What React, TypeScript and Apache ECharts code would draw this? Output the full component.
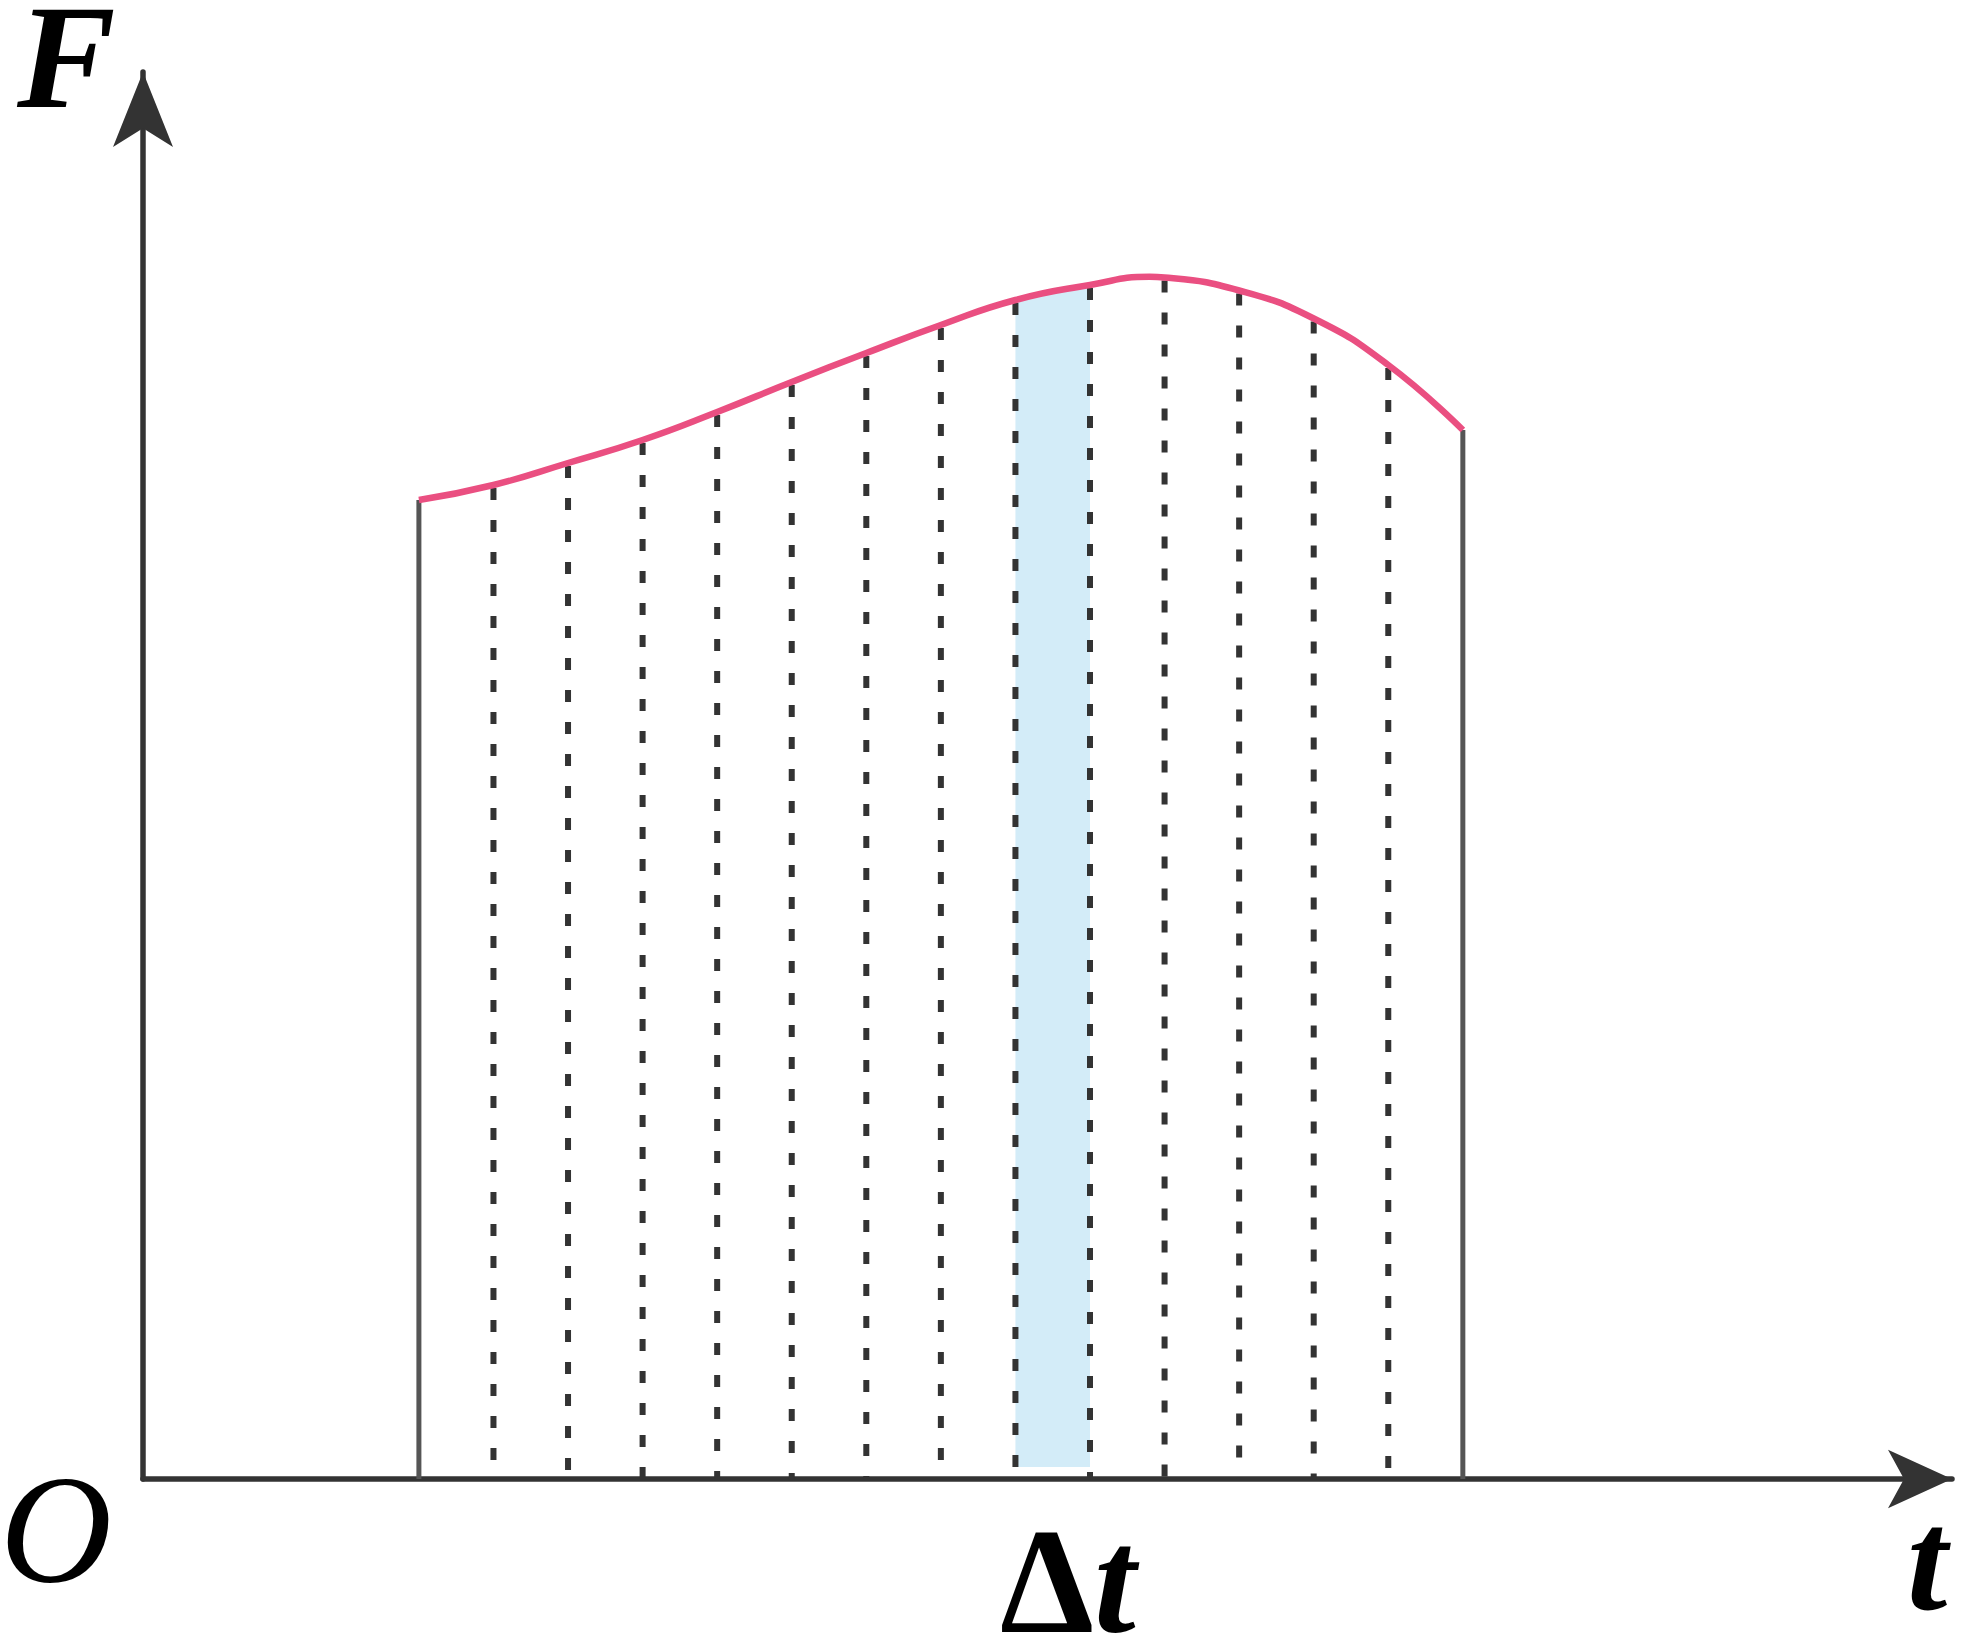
import React, { useEffect, useRef } from "react";
import * as echarts from "echarts";

// ---- data ----
// points read along the pink curve F(t): the slice boundaries plus the top of the hump
const curveT = [3.7, 4.7, 5.7, 6.7, 7.7, 8.7, 9.7, 10.7, 11.7, 12.7, 13.5, 13.7, 14.7, 15.7, 16.7, 17.7];
const curveF = [9.79, 9.94, 10.16, 10.39, 10.67, 10.97, 11.26, 11.54, 11.79, 11.94, 12.022, 12.015, 11.885, 11.605, 11.14, 10.49];
// which curve points are slice boundaries (14 equal slices of width Δt = 1)
const boundaryIdx = [0, 1, 2, 3, 4, 5, 6, 7, 8, 9, 11, 12, 13, 14, 15];
// highlighted slice (between these curve indices)
const highlightFrom = 8;
const highlightTo = 9;
const bandBase = 0.12;
// axis ranges
const tMax = 24.26;
const fMax = 14.07;
// labels
const yLabel = "F";
const xLabel = "t";
const originLabel = "O";
const deltaSymbol = "Δ";
const deltaVar = "t";

const SERIF = "'Liberation Serif', 'DejaVu Serif', serif";

export default function App() {
  const ref = useRef<HTMLDivElement>(null);

  useEffect(() => {
    if (!ref.current) return;
    const chart = echarts.init(ref.current, undefined, { renderer: "svg" });

    const curveData = curveT.map((t, i) => [t, curveF[i]]);
    const boundaryData = boundaryIdx.map((i) => [curveT[i], curveF[i]]);
    const innerData = boundaryData.slice(1, boundaryData.length - 1);
    const edgeData = [boundaryData[0], boundaryData[boundaryData.length - 1]];
    const bandData = [
      [curveT[highlightFrom], curveT[highlightTo], curveF[highlightFrom], curveF[highlightTo], bandBase],
    ];

    const option: any = {
      animation: false,
      backgroundColor: "#ffffff",
      grid: { left: 143, top: 72, width: 1809, height: 1407, containLabel: false },
      xAxis: {
        type: "value",
        min: 0,
        max: tMax,
        axisLine: {
          show: true,
          symbol: ["none", "arrow"],
          symbolSize: [44, 64],
          lineStyle: { color: "#333333", width: 5.5 },
        },
        axisTick: { show: false },
        axisLabel: { show: false },
        splitLine: { show: false },
      },
      yAxis: {
        type: "value",
        min: 0,
        max: fMax,
        axisLine: {
          show: true,
          symbol: ["none", "arrow"],
          symbolSize: [45, 75],
          lineStyle: { color: "#333333", width: 5.5 },
        },
        axisTick: { show: false },
        axisLabel: { show: false },
        splitLine: { show: false },
      },
      series: [
        {
          type: "custom",
          z: 1,
          data: bandData,
          renderItem: (params: any, api: any) => {
            const t0 = api.value(0);
            const t1 = api.value(1);
            const f0 = api.value(2);
            const f1 = api.value(3);
            const b = api.value(4);
            const pts = [api.coord([t0, b]), api.coord([t0, f0]), api.coord([t1, f1]), api.coord([t1, b])];
            return { type: "polygon", shape: { points: pts }, style: { fill: "#d3ecf8" } };
          },
        },
        {
          type: "custom",
          z: 2,
          data: innerData,
          renderItem: (params: any, api: any) => {
            const t = api.value(0);
            const f = api.value(1);
            const top = api.coord([t, f]);
            const bot = api.coord([t, 0]);
            return {
              type: "line",
              shape: { x1: top[0], y1: top[1] + 3, x2: bot[0], y2: bot[1] },
              style: { stroke: "#333333", lineWidth: 6, lineDash: [12, 20] },
            };
          },
        },
        {
          type: "custom",
          z: 2,
          data: edgeData,
          renderItem: (params: any, api: any) => {
            const t = api.value(0);
            const f = api.value(1);
            const top = api.coord([t, f]);
            const bot = api.coord([t, 0]);
            return {
              type: "line",
              shape: { x1: top[0], y1: top[1], x2: bot[0], y2: bot[1] },
              style: { stroke: "#555555", lineWidth: 5 },
            };
          },
        },
        {
          type: "line",
          z: 3,
          data: curveData,
          smooth: 0.5,
          showSymbol: false,
          symbol: "none",
          lineStyle: { color: "#ea4f81", width: 6.5 },
        },
      ],
      graphic: [
        {
          type: "text",
          left: 17,
          top: -17,
          style: {
            text: yLabel,
            font: `italic bold 148px ${SERIF}`,
            fill: "#000",
          },
        },
        {
          type: "text",
          left: 0,
          top: 1451,
          style: {
            text: originLabel,
            font: `italic 155px ${SERIF}`,
            fill: "#000",
          },
        },
        {
          type: "text",
          left: 1907,
          top: 1487,
          style: {
            text: xLabel,
            font: `italic bold 145px ${SERIF}`,
            fill: "#000",
          },
        },
        {
          type: "text",
          left: 1000,
          top: 1506,
          style: {
            text: `{d|${deltaSymbol}}{t|${deltaVar}}`,
            rich: {
              d: { font: `bold 150px ${SERIF}`, fill: "#000" },
              t: { font: `italic bold 150px ${SERIF}`, fill: "#000" },
            },
          },
        },
      ],
    };

    chart.setOption(option);
    return () => chart.dispose();
  }, []);

  return (
    <div
      ref={ref}
      style={{ position: "absolute", left: 0, top: 0, width: 1969, height: 1644, background: "#fff" }}
    />
  );
}
